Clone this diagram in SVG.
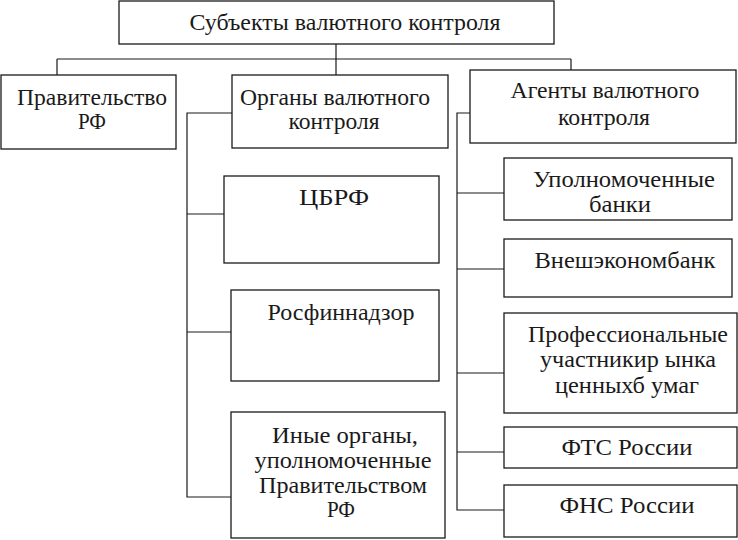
<svg xmlns="http://www.w3.org/2000/svg" width="738" height="540" viewBox="0 0 738 540">
<style>
rect{fill:#fff;stroke:#1a1a1a;stroke-width:1.3}
text{font-family:"Liberation Serif","Times New Roman",serif;font-size:23px;fill:#1a1a1a;text-anchor:middle}
#connectors path{fill:none;stroke:#1a1a1a;stroke-width:1.2}
</style>
<rect x="0" y="0" width="738" height="540" style="fill:#fff;stroke:none"/>
<g id="connectors">
<path d="M336 44V75M57 59H571M57 59V75M571 59V70"/>
<path d="M232 113H187V497H231M187 214H224M187 332H231"/>
<path d="M470 113H457V510H504M457 193H504M457 269H504M457 373H504M457 452H504"/>
</g>
<g id="n-root"><rect x="119" y="1" width="435" height="43"/><text x="345" y="30" textLength="311" lengthAdjust="spacingAndGlyphs">Субъекты валютного контроля</text></g>
<g id="n-gov"><rect x="1" y="75" width="175" height="74"/><text x="92" y="105" textLength="150" lengthAdjust="spacingAndGlyphs">Правительство</text><text x="92" y="129" textLength="28" lengthAdjust="spacingAndGlyphs">РФ</text></g>
<g id="n-organs"><rect x="232" y="75" width="216" height="73"/><text x="335" y="105" textLength="190" lengthAdjust="spacingAndGlyphs">Органы валютного</text><text x="334" y="129" textLength="91" lengthAdjust="spacingAndGlyphs">контроля</text></g>
<g id="n-agents"><rect x="470" y="70" width="266" height="73"/><text x="605" y="98" textLength="189" lengthAdjust="spacingAndGlyphs">Агенты валютного</text><text x="604" y="125" textLength="92" lengthAdjust="spacingAndGlyphs">контроля</text></g>
<g id="n-cbrf"><rect x="224" y="176" width="215" height="87"/><text x="334" y="205" textLength="70" lengthAdjust="spacingAndGlyphs">ЦБРФ</text></g>
<g id="n-rosfin"><rect x="231" y="290" width="208" height="91"/><text x="341" y="320" textLength="147" lengthAdjust="spacingAndGlyphs">Росфиннадзор</text></g>
<g id="n-other"><rect x="231" y="412" width="214" height="126"/><text x="345" y="443" textLength="146" lengthAdjust="spacingAndGlyphs">Иные органы,</text><text x="343" y="468" textLength="177" lengthAdjust="spacingAndGlyphs">уполномоченные</text><text x="343" y="493" textLength="168" lengthAdjust="spacingAndGlyphs">Правительством</text><text x="341" y="517" textLength="28" lengthAdjust="spacingAndGlyphs">РФ</text></g>
<g id="n-banks"><rect x="504" y="158" width="228" height="62"/><text x="624" y="187" textLength="182" lengthAdjust="spacingAndGlyphs">Уполномоченные</text><text x="620" y="212" textLength="62" lengthAdjust="spacingAndGlyphs">банки</text></g>
<g id="n-veb"><rect x="504" y="239" width="228" height="58"/><text x="625" y="268" textLength="181" lengthAdjust="spacingAndGlyphs">Внешэкономбанк</text></g>
<g id="n-prof"><rect x="504" y="313" width="233" height="100"/><text x="628" y="342" textLength="200" lengthAdjust="spacingAndGlyphs">Профессиональные</text><text x="628" y="367" textLength="176" lengthAdjust="spacingAndGlyphs">участникир ынка</text><text x="627" y="393" textLength="144" lengthAdjust="spacingAndGlyphs">ценныхб умаг</text></g>
<g id="n-fts"><rect x="504" y="427" width="233" height="41"/><text x="627" y="455" textLength="131" lengthAdjust="spacingAndGlyphs">ФТС России</text></g>
<g id="n-fns"><rect x="504" y="485" width="233" height="52"/><text x="627" y="513" textLength="135" lengthAdjust="spacingAndGlyphs">ФНС России</text></g>
</svg>
